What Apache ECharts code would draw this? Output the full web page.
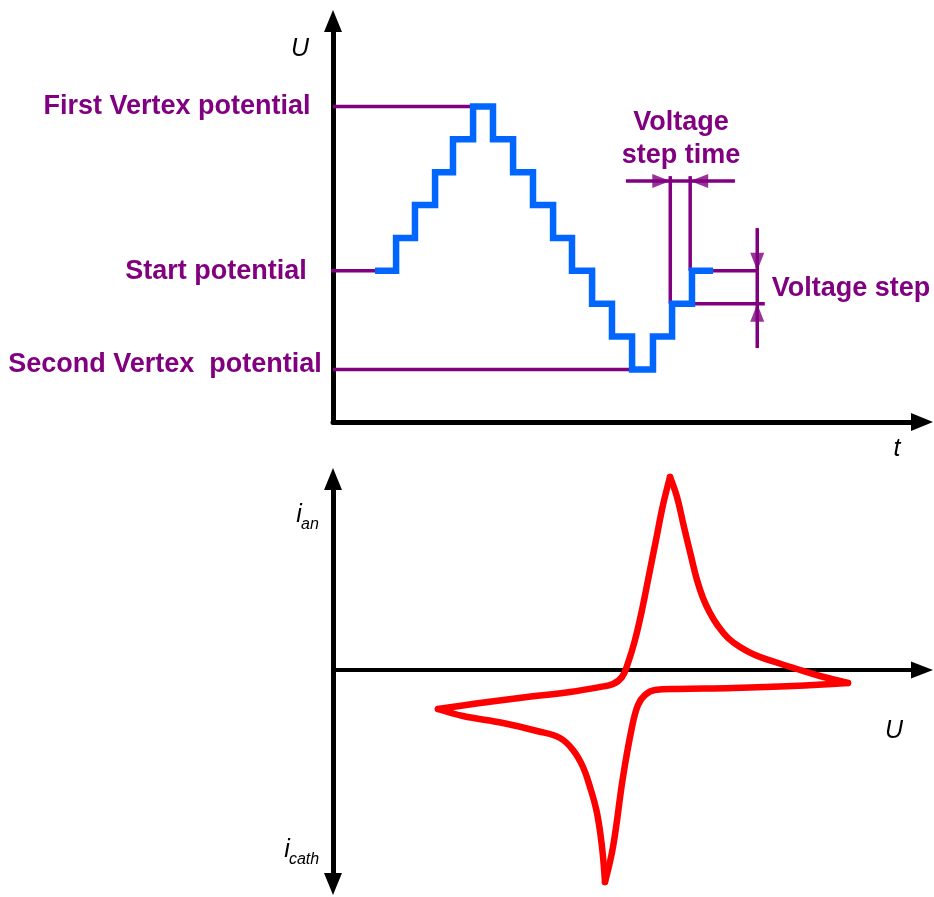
<!DOCTYPE html>
<html><head><meta charset="utf-8">
<script src="https://cdn.jsdelivr.net/npm/echarts@6/dist/echarts.min.js"></script>
<style>html,body{margin:0;padding:0;background:#fff}#c{width:934px;height:897px}</style>
</head><body><div id="c"></div>
<script>
// ---------- Top panel: staircase potential programme (t in step-time units, U in voltage-step levels)
const stepTimes  = [2.11, 3.17, 4.12, 5.13, 6.03, 7.04, 8.04, 9.05, 10.05, 11.06, 12.01, 13.02, 14.02, 15.03, 16.08, 17.04, 18.04, 19.10];
const stepLevels = [3, 4, 5, 6, 7, 8, 7, 6, 5, 4, 3, 2, 1, 0, 1, 2, 3, 3];

const firstVertexLine  = [[0, 8], [7.04, 8]];
const startLine        = [[-0.25, 3], [2.11, 3]];
const secondVertexLine = [[0, 0], [15.03, 0]];

// "Voltage step time" dimension
const stepTimeLeft      = [[16.95, 2], [16.95, 5.88]];
const stepTimeRight     = [[17.95, 3], [17.95, 5.88]];
const stepTimeDimLine   = [[14.72, 5.73], [20.2, 5.73]];
const stepTimeArrowTips = [[16.95, 5.73], [17.95, 5.73]];

// "Voltage step" dimension
const voltStepUpperExt  = [[19.10, 3], [21.36, 3]];
const voltStepLowerExt  = [[18.04, 2], [21.70, 2]];
const voltStepDimLine   = [[21.32, 4.30], [21.32, 0.65]];
const voltStepArrowTips = [[21.32, 3], [21.32, 2]];

// ---------- Bottom panel: cyclic voltammogram loop (U, i in arbitrary units)
const cvU = [1.05, 1.47, 1.94, 2.37, 2.67, 2.80, 2.89, 2.95, 3.02, 3.09, 3.17, 3.23, 3.30, 3.37,
             3.44, 3.51, 3.58, 3.64, 3.70, 3.77, 3.85, 3.95, 4.07, 4.22, 4.42, 4.64, 4.87, 5.15,
             4.60, 4.00, 3.44, 3.22, 3.12, 3.05, 2.99, 2.90, 2.80, 2.72,
             2.69, 2.64, 2.57, 2.50, 2.40, 2.27, 2.04, 1.70, 1.30, 1.05];
const cvI = [-0.39, -0.33, -0.27, -0.22, -0.17, -0.14, -0.07, 0.07, 0.30, 0.60, 1.00, 1.30, 1.65, 1.93,
             1.73, 1.43, 1.14, 0.90, 0.72, 0.57, 0.44, 0.32, 0.23, 0.15, 0.08, 0.01, -0.06, -0.13,
             -0.16, -0.18, -0.19, -0.20, -0.25, -0.35, -0.57, -1.07, -1.77, -2.12,
             -1.77, -1.43, -1.17, -0.97, -0.80, -0.68, -0.61, -0.53, -0.46, -0.39];
// indices of the turning points (left tip, anodic peak, right tip, cathodic peak, back to left tip)
const cvTurns = [0, 13, 27, 37, 47];

const purple = '#800080';
const blue = '#0066ff';
const red = '#ff0000';
const labelFont = 'bold 27px "Liberation Sans", Arial, sans-serif';
const axisFont = 'italic 25px "Liberation Sans", Arial, sans-serif';
const subFont = 'italic 16px "Liberation Sans", Arial, sans-serif';

function seg(data, width) {
  return { type: 'line', xAxisIndex: 0, yAxisIndex: 0, data: data, symbol: 'none', clip: false,
           lineStyle: { color: purple, width: width || 3.5 }, z: 2, animation: false, silent: true };
}
function arrowHeads(tips, rotations, offsets) {
  return { type: 'scatter', xAxisIndex: 0, yAxisIndex: 0, clip: false, animation: false, silent: true, z: 4,
    data: tips.map((p, k) => ({ value: p, symbol: 'triangle', symbolSize: [14, 18],
      symbolRotate: rotations[k], symbolOffset: offsets[k], itemStyle: { color: purple } })) };
}
function txt(text, x, y, font, color, align) {
  return { type: 'text', x: x, y: y, silent: true,
    style: { text: text, font: font, fill: color, align: align || 'center', verticalAlign: 'middle',
             textAlign: align || 'center', textVerticalAlign: 'middle', lineHeight: 33 } };
}

const cvPoints = cvU.map((u, k) => [u, cvI[k]]);
const cvSeries = [];
for (let s = 0; s < cvTurns.length - 1; s++) {
  cvSeries.push({ type: 'line', xAxisIndex: 1, yAxisIndex: 1, symbol: 'none', clip: false, z: 3, smooth: 0.4,
    data: cvPoints.slice(cvTurns[s], cvTurns[s + 1] + 1), silent: true,
    lineStyle: { color: red, width: 6.5, join: 'round', cap: 'round' } });
}

const axisCommon = { splitLine: { show: false }, axisTick: { show: false }, axisLabel: { show: false } };

const chart = echarts.init(document.getElementById('c'), null, { renderer: 'canvas' });
chart.setOption({
  animation: false,
  backgroundColor: '#ffffff',
  grid: [
    { left: 333, top: 21, width: 589, height: 401 },
    { left: 333, top: 479, width: 589, height: 405 }
  ],
  xAxis: [
    Object.assign({ type: 'value', gridIndex: 0, min: 0, max: 29.6,
      axisLine: { onZero: false, lineStyle: { color: '#000', width: 5 }, symbol: ['none', 'triangle'], symbolSize: [18, 22] } }, axisCommon),
    Object.assign({ type: 'value', gridIndex: 1, min: 0, max: 5.89,
      axisLine: { onZero: true, lineStyle: { color: '#000', width: 4 }, symbol: ['none', 'triangle'], symbolSize: [17, 22] } }, axisCommon)
  ],
  yAxis: [
    Object.assign({ type: 'value', gridIndex: 0, min: -1.6, max: 10.6,
      axisLine: { onZero: false, lineStyle: { color: '#000', width: 5 }, symbol: ['none', 'triangle'], symbolSize: [18, 22] } }, axisCommon),
    Object.assign({ type: 'value', gridIndex: 1, min: -2.14, max: 1.91,
      axisLine: { onZero: false, lineStyle: { color: '#000', width: 5 }, symbol: ['triangle', 'triangle'], symbolSize: [18, 22] } }, axisCommon)
  ],
  series: [
    seg(firstVertexLine), seg(startLine), seg(secondVertexLine),
    seg(stepTimeLeft), seg(stepTimeRight), seg(stepTimeDimLine),
    seg(voltStepUpperExt), seg(voltStepLowerExt), seg(voltStepDimLine),
    arrowHeads(stepTimeArrowTips, [-90, 90], [[-9, 0], [9, 0]]),
    arrowHeads(voltStepArrowTips, [180, 0], [[0, -9], [0, 9]]),
    { type: 'line', xAxisIndex: 0, yAxisIndex: 0, step: 'end', symbol: 'none', clip: false, z: 3,
      data: stepTimes.map((t, k) => [t, stepLevels[k]]),
      lineStyle: { color: blue, width: 6.5, join: 'miter' } }
  ].concat(cvSeries),
  graphic: [
    txt('First Vertex potential', 177, 107, labelFont, purple),
    txt('Start potential', 216, 272, labelFont, purple),
    txt('Second Vertex  potential', 165, 365, labelFont, purple),
    txt('Voltage\nstep time', 681, 139, labelFont, purple),
    txt('Voltage step', 851, 289, labelFont, purple),
    txt('U', 300, 49, axisFont, '#000'),
    txt('t', 897, 449, axisFont, '#000'),
    txt('U', 894, 731, axisFont, '#000'),
    txt('i', 299, 515, axisFont, '#000'),
    txt('an', 310, 525, subFont, '#000'),
    txt('i', 287, 850, axisFont, '#000'),
    txt('cath', 304, 860, subFont, '#000')
  ]
});
</script></body></html>
